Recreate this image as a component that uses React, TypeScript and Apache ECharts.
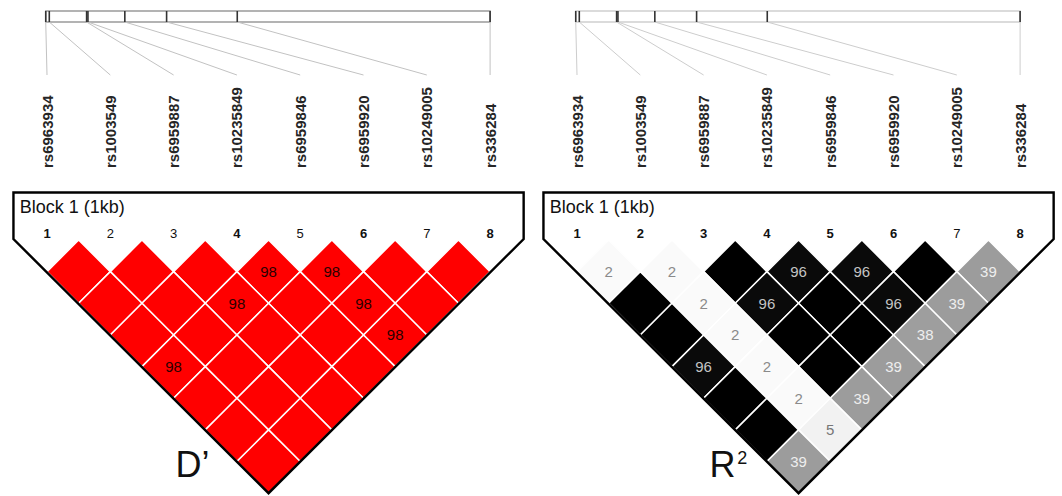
import React, { useEffect, useRef } from 'react';
import * as echarts from 'echarts';

// ---------------- data ----------------
const markers = ['rs6963934', 'rs1003549', 'rs6959887', 'rs10235849', 'rs6959846', 'rs6959920', 'rs10249005', 'rs336284'];
// relative physical position of each marker inside the 1kb block (bp)
const markerPosBp = [0, 8, 92, 95, 178, 272, 431, 1000];
const markerNumbers = ['1', '2', '3', '4', '5', '6', '7', '8'];
const dPrimeBold = [true, false, false, true, false, true, false, true];
const r2Bold = [true, true, true, true, true, true, false, true];
// rows by marker distance: row k holds pairs (i, i+k)
const dPrimeRows = [
  [100, 100, 100, 98, 98, 100, 100],
  [100, 100, 98, 100, 98, 100],
  [100, 100, 100, 100, 98],
  [98, 100, 100, 100],
  [100, 100, 100],
  [100, 100],
  [100],
];
const r2Rows = [
  [2, 2, 100, 96, 96, 100, 39],
  [100, 2, 96, 100, 96, 39],
  [100, 2, 100, 100, 38],
  [96, 2, 100, 39],
  [100, 2, 39],
  [100, 5],
  [39],
];
const blockLabel = 'Block 1 (1kb)';

// ---------------- layout ----------------
const S = 63.3; // px per marker step
const H = 31.65; // px per row
const X0 = 47; // px of marker 1 in left panel
const OFF = [0, 530];
const FONT = '"Liberation Sans", Arial, Helvetica, sans-serif';

const physIdx = (bp: number) => 0.98 + bp * 0.00702;

function pairsFrom(rows: number[][]) {
  const out: number[][] = [];
  rows.forEach((row, r) => row.forEach((v, i) => out.push([i + 1, i + 1 + r + 1, v])));
  return out;
}

function grayOf(v: number) {
  const g = Math.round(255 * (1 - v / 100));
  return `rgb(${g},${g},${g})`;
}
function r2TextColor(v: number) {
  if (v >= 80) return '#c4c4c4';
  if (v <= 3) return '#8a8a8a';
  if (v <= 10) return '#777777';
  return '#eeeeee';
}

function buildOption() {
  const grids: any[] = [];
  const xAxes: any[] = [];
  const yAxes: any[] = [];
  const series: any[] = [];

  OFF.forEach((off, p) => {
    const left = X0 + off - 0.5 * S;
    grids.push({ left, top: 0, width: 8 * S, height: 170 });
    grids.push({ left, top: 240 - 1.5 * H, width: 8 * S, height: 9.5 * H });
    const gTop = p * 2;
    const gMat = p * 2 + 1;
    xAxes.push({ type: 'value', gridIndex: gTop, min: 0.5, max: 8.5, show: false });
    xAxes.push({ type: 'value', gridIndex: gMat, min: 0.5, max: 8.5, show: false });
    yAxes.push({ type: 'value', gridIndex: gTop, min: 0, max: 170, inverse: true, show: false });
    yAxes.push({ type: 'value', gridIndex: gMat, min: -1.5, max: 8, inverse: true, show: false });

    const isD = p === 0;
    const barStroke = isD ? '#9a9a9a' : '#cfcfcf';
    const lineStroke = isD ? '#c2c2c2' : '#cdcdcd';

    // gene map bar
    series.push({
      type: 'custom',
      xAxisIndex: gTop,
      yAxisIndex: gTop,
      silent: true,
      data: [[0, 1000]],
      renderItem: (params: any, api: any) => {
        const a = api.coord([physIdx(api.value(0)), 11]);
        const b = api.coord([physIdx(api.value(1)), 22]);
        return {
          type: 'rect',
          shape: { x: a[0], y: a[1], width: b[0] - a[0], height: b[1] - a[1] },
          style: { fill: '#fff', stroke: barStroke, lineWidth: 1.3 },
        };
      },
    });

    // marker ticks, connectors and names
    series.push({
      type: 'custom',
      xAxisIndex: gTop,
      yAxisIndex: gTop,
      silent: true,
      z: 3,
      data: markers.map((m, k) => [k + 1, markerPosBp[k]]),
      renderItem: (params: any, api: any) => {
        const k = api.value(0);
        const px = physIdx(api.value(1));
        const t1 = api.coord([px, 11]);
        const t2 = api.coord([px, 22]);
        const e = api.coord([k, 75]);
        const lab = api.coord([k, 168]);
        return {
          type: 'group',
          children: [
            { type: 'line', shape: { x1: t2[0], y1: t2[1], x2: e[0], y2: e[1] }, style: { stroke: lineStroke, lineWidth: 1 } },
            { type: 'line', shape: { x1: t1[0], y1: t1[1], x2: t2[0], y2: t2[1] }, style: { stroke: '#333', lineWidth: 1.6 } },
            {
              type: 'text',
              x: lab[0],
              y: lab[1],
              rotation: Math.PI / 2,
              style: {
                text: markers[params.dataIndex],
                fill: '#262626',
                font: `bold 15px ${FONT}`,
                align: 'left',
                verticalAlign: 'middle',
              },
            },
          ],
        };
      },
    });

    // LD cells
    const rows = isD ? dPrimeRows : r2Rows;
    series.push({
      type: 'custom',
      xAxisIndex: gMat,
      yAxisIndex: gMat,
      silent: true,
      z: 2,
      data: pairsFrom(rows),
      renderItem: (params: any, api: any) => {
        const i = api.value(0);
        const j = api.value(1);
        const v = api.value(2);
        const cx = (i + j) / 2;
        const k = j - i;
        const pts = [
          [cx, k - 1],
          [cx + 0.5, k],
          [cx, k + 1],
          [cx - 0.5, k],
        ].map((q) => api.coord(q));
        const fill = isD ? '#ff0000' : grayOf(v);
        const children: any[] = [
          { type: 'polygon', shape: { points: pts }, style: { fill, stroke: '#ffffff', lineWidth: 1.5 } },
        ];
        if (v < 100) {
          const c = api.coord([cx, k]);
          children.push({
            type: 'text',
            x: c[0],
            y: c[1],
            style: {
              text: String(v),
              fill: isD ? '#2a0000' : r2TextColor(v),
              font: `15px ${FONT}`,
              align: 'center',
              verticalAlign: 'middle',
            },
          });
        }
        return { type: 'group', children };
      },
    });

    // marker numbers
    const bold = isD ? dPrimeBold : r2Bold;
    series.push({
      type: 'custom',
      xAxisIndex: gMat,
      yAxisIndex: gMat,
      silent: true,
      z: 4,
      data: markerNumbers.map((n, k) => [k + 1, -0.22]),
      renderItem: (params: any, api: any) => {
        const c = api.coord([api.value(0), api.value(1)]);
        return {
          type: 'text',
          x: c[0],
          y: c[1],
          style: {
            text: markerNumbers[params.dataIndex],
            fill: '#111',
            font: `${bold[params.dataIndex] ? 'bold ' : ''}13px ${FONT}`,
            align: 'center',
            verticalAlign: 'middle',
          },
        };
      },
    });

    // block outline + block label + panel title
    series.push({
      type: 'custom',
      xAxisIndex: gMat,
      yAxisIndex: gMat,
      silent: true,
      z: 5,
      data: [[0.47, 8.53]],
      renderItem: (params: any, api: any) => {
        const xl = api.value(0);
        const xr = api.value(1);
        const pts = [
          [xl, -1.5],
          [xr, -1.5],
          [xr, -0.03],
          [4.5, 8],
          [xl, -0.03],
        ].map((q) => api.coord(q));
        const bl = api.coord([xl + 0.1, -1.04]);
        const children: any[] = [
          { type: 'polygon', shape: { points: pts }, style: { fill: 'none', stroke: '#000', lineWidth: 2.4, lineJoin: 'miter' } },
          {
            type: 'text',
            x: bl[0],
            y: bl[1],
            style: { text: blockLabel, fill: '#111', font: `18px ${FONT}`, align: 'left', verticalAlign: 'middle' },
          },
        ];
        if (isD) {
          const d = api.coord([3.3, 7.1]);
          children.push({
            type: 'text',
            x: d[0],
            y: d[1],
            style: { text: 'D’', fill: '#111', font: `36px ${FONT}`, align: 'center', verticalAlign: 'middle' },
          });
        } else {
          const r = api.coord([3.3, 7.1]);
          const s = api.coord([3.53, 6.9]);
          children.push({
            type: 'text',
            x: r[0],
            y: r[1],
            style: { text: 'R', fill: '#111', font: `36px ${FONT}`, align: 'center', verticalAlign: 'middle' },
          });
          children.push({
            type: 'text',
            x: s[0],
            y: s[1],
            style: { text: '2', fill: '#111', font: `18px ${FONT}`, align: 'left', verticalAlign: 'middle' },
          });
        }
        return { type: 'group', children };
      },
    });
  });

  return {
    animation: false,
    backgroundColor: '#ffffff',
    grid: grids,
    xAxis: xAxes,
    yAxis: yAxes,
    series,
  };
}

export default function App() {
  const ref = useRef<HTMLDivElement>(null);
  useEffect(() => {
    if (!ref.current) return;
    const chart = echarts.init(ref.current, undefined, { renderer: 'svg' });
    chart.setOption(buildOption() as any);
    return () => chart.dispose();
  }, []);
  return (
    <div
      ref={ref}
      style={{ position: 'absolute', left: 0, top: 0, width: 1062, height: 496, background: '#fff' }}
    />
  );
}
